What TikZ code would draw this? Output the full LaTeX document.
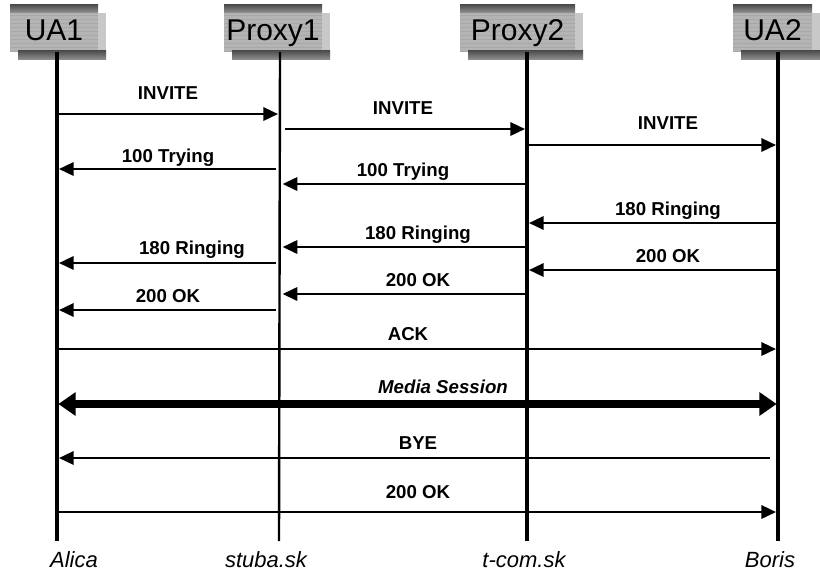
\documentclass[tikz,border=0pt]{standalone}
\usepackage{fontspec}
\setmainfont{Liberation Sans}
\usetikzlibrary{arrows.meta}
\definecolor{bodygray}{HTML}{B4B4B4}
\definecolor{stripegray}{HTML}{A8A8A8}
\definecolor{shadowgray}{HTML}{C8C8C8}
\definecolor{darkA}{HTML}{484848}
\definecolor{darkB}{HTML}{8C8C8C}
\newcommand\HdrBox[4]{%
  \fill[shadowgray] (#3,13) rectangle (#3+8,52);
  \fill[bodygray] (#2,12) rectangle (#3,52);
  \foreach \yy in {15,19,...,51} \draw[stripegray,line width=0.6pt] (#2,\yy) -- (#3,\yy);
  \shade[top color=darkA,bottom color=darkB] (#2,4) rectangle (#3,12);
  \shade[top color=darkA,bottom color=darkB] (#2+8,50) rectangle (#3+8,59);
  \node[hdr] (#1) at ({(#2+#3)/2},40) {#4};
}
\begin{document}
\begin{tikzpicture}[x=0.75pt,y=-0.75pt,
  msg/.style={line width=1.8pt,-{Triangle[length=11pt,width=10pt]}},
  media/.style={line width=6pt,{Triangle[length=13pt,width=17pt]}-{Triangle[length=13pt,width=17pt]}},
  lbl/.style={font=\fontsize{14}{16}\selectfont\bfseries, inner sep=0pt, anchor=base},
  mlbl/.style={font=\fontsize{14}{16}\selectfont\bfseries\itshape, inner sep=0pt, anchor=base},
  life/.style={line width=2.6pt},
  hdr/.style={font=\fontsize{22.5}{26}\selectfont, inner sep=0pt, anchor=base},
  site/.style={font=\fontsize{16.5}{19}\selectfont\itshape, inner sep=0pt, anchor=base}]
\useasboundingbox (0,0) rectangle (820,576);
\fill[white] (0,0) rectangle (820,576);

\HdrBox{ua1}{10}{98}{UA1}
\HdrBox{px1}{224}{322}{Proxy1}
\HdrBox{px2}{460}{575}{Proxy2}
\HdrBox{ua2}{733}{812}{UA2}

% lifelines
\coordinate (L1) at (57,52);  \coordinate (L1b) at (57,541);
\coordinate (L2) at (280,52); \coordinate (L2b) at (279,541);
\coordinate (L3) at (527,52); \coordinate (L3b) at (527,541);
\coordinate (L4) at (778,52); \coordinate (L4b) at (778,541);
\draw[life] (L1) -- (L1b);
\draw[line width=1.8pt] (L2) -- (L2b);
\draw[life] (L3) -- (L3b);
\draw[life] (L4) -- (L4b);

% messages
\draw[msg,shorten >=1.5pt] (L1 |- 0,114) -- (L2 |- 0,114);
\node[lbl] (m1) at (168,99) {INVITE};
\draw[msg,shorten <=4pt,shorten >=1.5pt] (L2 |- 0,129) -- (L3 |- 0,129);
\node[lbl] (m2) at (403,114) {INVITE};
\draw[msg,shorten >=1.5pt] (L3 |- 0,145) -- (L4 |- 0,145);
\node[lbl] (m3) at (668,129) {INVITE};

\draw[msg,shorten <=3pt,shorten >=1.5pt] (L2 |- 0,169) -- (L1 |- 0,169);
\node[lbl] (m4) at (168,162) {100 Trying};
\draw[msg,shorten >=2pt] (L3 |- 0,184) -- (L2 |- 0,184);
\node[lbl] (m5) at (403,176) {100 Trying};

\draw[msg,shorten >=1.5pt] (L4 |- 0,223) -- (L3 |- 0,223);
\node[lbl] (m6) at (668,215) {180 Ringing};
\draw[msg,shorten >=2pt] (L3 |- 0,247) -- (L2 |- 0,247);
\node[lbl] (m7) at (418,239) {180 Ringing};
\draw[msg,shorten <=3pt,shorten >=1.5pt] (L2 |- 0,263) -- (L1 |- 0,263);
\node[lbl] (m8) at (192,254) {180 Ringing};

\draw[msg,shorten >=1.5pt] (L4 |- 0,270) -- (L3 |- 0,270);
\node[lbl] (m9) at (668,262) {200 OK};
\draw[msg,shorten >=2pt] (L3 |- 0,294) -- (L2 |- 0,294);
\node[lbl] (m10) at (418,286) {200 OK};
\draw[msg,shorten <=3pt,shorten >=1.5pt] (L2 |- 0,310) -- (L1 |- 0,310);
\node[lbl] (m11) at (168,302) {200 OK};

\draw[msg,shorten >=1.5pt] (L1 |- 0,349) -- (L4 |- 0,349);
\node[lbl] (m12) at (408,340) {ACK};

\draw[media,shorten <=1pt,shorten >=1pt] (L1 |- 0,404) -- (L4 |- 0,404);
\node[mlbl] (m13) at (443,393) {Media Session};

\draw[msg,shorten <=6pt,shorten >=1.5pt] (L4 |- 0,458) -- (L1 |- 0,458);
\node[lbl] (m14) at (418,449) {BYE};

\draw[msg,shorten >=1.5pt] (L1 |- 0,512) -- (L4 |- 0,512);
\node[lbl] (m15) at (418,498) {200 OK};

% bottom names
\node[site] (s1) at (74,567) {Alica};
\node[site] (s2) at (266,567) {stuba.sk};
\node[site] (s3) at (524,567) {t-com.sk};
\node[site] (s4) at (770,567) {Boris};
\end{tikzpicture}
\end{document}
